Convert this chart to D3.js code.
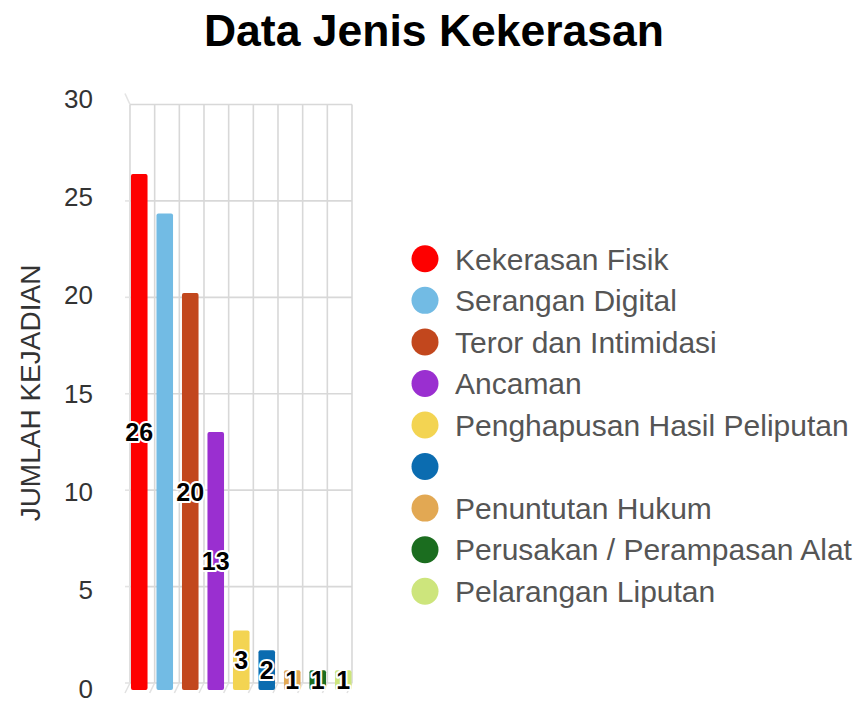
<!DOCTYPE html>
<html>
<head>
<meta charset="utf-8">
<script src="https://cdn.jsdelivr.net/npm/d3@7"></script>
<style>
  body { margin: 0; background: #fff; }
  svg { display: block; }
</style>
</head>
<body>
<svg width="856" height="704"></svg>
<script>
// data
var categories = ["Kekerasan Fisik", "Serangan Digital", "Teror dan Intimidasi", "Ancaman",
    "Penghapusan Hasil Peliputan", "", "Penuntutan Hukum", "Perusakan / Perampasan Alat", "Pelarangan Liputan"];
var values = [26, 24, 20, 13, 3, 2, 1, 1, 1];
var valueLabels = ["26", "", "20", "13", "3", "2", "1", "1", "1"];
var colors = ["#fe0000", "#72bbe4", "#c2471d", "#9a2fd0", "#f3d452", "#0b6cb0", "#e2a853", "#1b6d1f", "#cde57c"];
var yTicks = [0, 5, 10, 15, 20, 25, 30];

var svg = d3.select("svg");
var idx = d3.range(categories.length);

// back wall of the pseudo-3d chart
var xGrid = d3.scaleBand().domain(idx).range([130, 352]);
var yGrid = d3.scaleLinear().domain([0, 30]).range([683, 104.5]);

// front plane where the bars sit
var x = d3.scaleBand().domain(idx).range([126.5, 356]).paddingInner(0.35).paddingOuter(0.175);
var y = d3.scaleLinear().domain([0, 30]).range([690, 94.5]);

// tick labels
var yAxisScale = d3.scaleLinear().domain([0, 30]).range([688, 98]);

svg.append("text")
    .attr("x", 434)
    .attr("y", 46)
    .attr("text-anchor", "middle")
    .attr("font-family", "Liberation Sans, Arial, sans-serif")
    .attr("font-weight", "bold")
    .attr("font-size", 44.5)
    .attr("fill", "#000")
    .text("Data Jenis Kekerasan");

var grid = svg.append("g")
    .attr("stroke", "#d8d8d8")
    .attr("stroke-width", 1.6)
    .attr("fill", "none");

grid.selectAll(".hline")
    .data(yTicks)
    .enter().append("line")
    .attr("class", "hline")
    .attr("x1", xGrid.range()[0])
    .attr("x2", xGrid.range()[1])
    .attr("y1", function (d) { return yGrid(d); })
    .attr("y2", function (d) { return yGrid(d); });

var edges = idx.map(function (i) { return xGrid(i); }).concat([xGrid.range()[1]]);

grid.selectAll(".vline")
    .data(edges)
    .enter().append("line")
    .attr("class", "vline")
    .attr("x1", function (d) { return d; })
    .attr("x2", function (d) { return d; })
    .attr("y1", yGrid(30))
    .attr("y2", yGrid(0));

// floor depth lines
grid.selectAll(".fline")
    .data(edges)
    .enter().append("line")
    .attr("class", "fline")
    .attr("stroke", "#e2e2e2")
    .attr("x1", function (d) { return d; })
    .attr("x2", function (d) { return d - 5; })
    .attr("y1", yGrid(0))
    .attr("y2", y(0) + 3);

// left wall stubs
grid.selectAll(".lstub")
    .data(yTicks)
    .enter().append("line")
    .attr("class", "lstub")
    .attr("stroke", "#e4e4e4")
    .attr("x1", xGrid.range()[0])
    .attr("x2", xGrid.range()[0] - 5)
    .attr("y1", function (d) { return yGrid(d); })
    .attr("y2", function (d) { return yGrid(d) - (d === 30 ? 11 : 0); });

var yAxis = svg.append("g")
    .attr("transform", "translate(93,0)")
    .call(d3.axisLeft(yAxisScale).tickValues(yTicks).tickSize(0).tickPadding(0));
yAxis.select(".domain").remove();
yAxis.selectAll("text")
    .attr("font-family", "Liberation Sans, Arial, sans-serif")
    .attr("font-size", 26)
    .attr("fill", "#333")
    .attr("dy", "0.35em");

svg.append("text")
    .attr("transform", "translate(40,393) rotate(-90)")
    .attr("text-anchor", "middle")
    .attr("font-family", "Liberation Sans, Arial, sans-serif")
    .attr("font-size", 28)
    .attr("fill", "#333")
    .text("JUMLAH KEJADIAN");

svg.append("g").selectAll("rect")
    .data(idx)
    .enter().append("rect")
    .attr("x", function (i) { return x(i); })
    .attr("y", function (i) { return y(values[i]); })
    .attr("width", x.bandwidth())
    .attr("height", function (i) { return y(0) - y(values[i]); })
    .attr("rx", 2)
    .attr("fill", function (i) { return colors[i]; });

svg.append("g").selectAll("text")
    .data(idx.filter(function (i) { return valueLabels[i] !== ""; }))
    .enter().append("text")
    .attr("x", function (i) { return x(i) + x.bandwidth() / 2; })
    .attr("y", function (i) { return (y(values[i]) + y(0)) / 2; })
    .attr("dy", "0.36em")
    .attr("text-anchor", "middle")
    .attr("font-family", "Liberation Sans, Arial, sans-serif")
    .attr("font-weight", "bold")
    .attr("font-size", 25)
    .attr("fill", "#000")
    .attr("stroke", "#fff")
    .attr("stroke-width", 4)
    .attr("stroke-linejoin", "round")
    .attr("paint-order", "stroke")
    .text(function (i) { return valueLabels[i]; });

var legendY = d3.scaleBand().domain(idx).range([238, 612]);

var legend = svg.append("g").selectAll("g")
    .data(idx)
    .enter().append("g")
    .attr("transform", function (i) { return "translate(425," + (legendY(i) + legendY.bandwidth() / 2) + ")"; });

legend.append("circle")
    .attr("r", 13.5)
    .attr("fill", function (i) { return colors[i]; });

legend.append("text")
    .attr("x", 30)
    .attr("dy", "0.36em")
    .attr("font-family", "Liberation Sans, Arial, sans-serif")
    .attr("font-size", 30)
    .attr("fill", "#555")
    .text(function (i) { return categories[i]; });
</script>
</body>
</html>
